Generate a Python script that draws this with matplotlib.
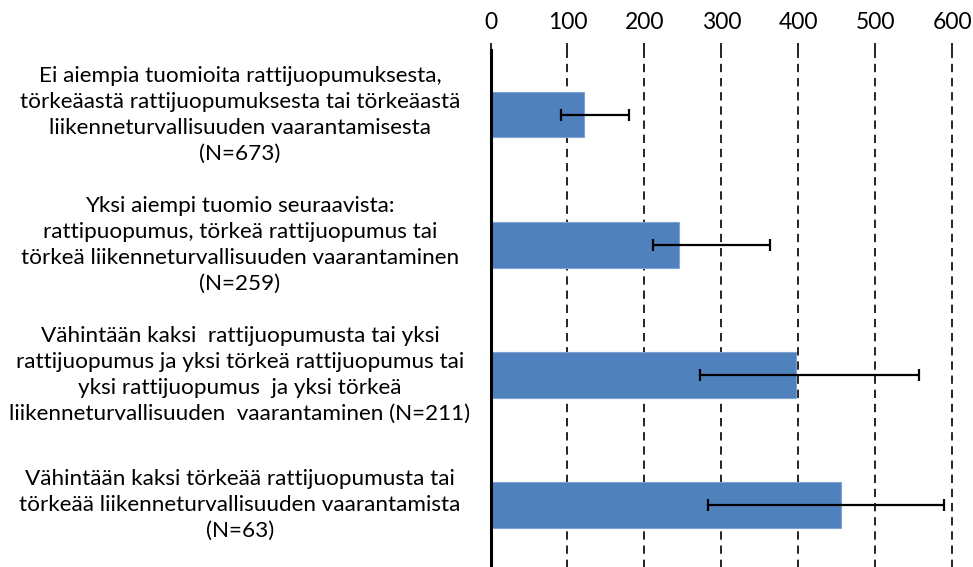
import matplotlib
matplotlib.use("Agg")
import matplotlib.pyplot as plt
from matplotlib.transforms import blended_transform_factory

categories = [
    "Ei aiempia tuomioita rattijuopumuksesta,\ntörkeäastä rattijuopumuksesta tai törkeäastä\nliikenneturvallisuuden vaarantamisesta\n(N=673)",
    "Yksi aiempi tuomio seuraavista:\nrattipuopumus, törkeä rattijuopumus tai\ntörkeä liikenneturvallisuuden vaarantaminen\n(N=259)",
    "Vähintään kaksi  rattijuopumusta tai yksi\nrattijuopumus ja yksi törkeä rattijuopumus tai\nyksi rattijuopumus  ja yksi törkeä\nliikenneturvallisuuden  vaarantaminen (N=211)",
    "Vähintään kaksi törkeää rattijuopumusta tai\ntörkeää liikenneturvallisuuden vaarantamista\n(N=63)",
]
values = [121, 245, 397, 456]
err_low = [92, 211, 272, 282]
err_high = [180, 363, 557, 589]
xticks = [0, 100, 200, 300, 400, 500, 600]

plt.rcParams['font.family'] = ['Lato', 'DejaVu Sans']

fig = plt.figure(figsize=(9.73, 5.67), dpi=100)
ax = fig.add_axes([490.5 / 973, -0.005, (952.3 - 490.5) / 973, 0.9173])

ypos = list(range(len(categories)))
ax.barh(ypos, values, height=0.35, color='#4F81BD', edgecolor='#7FA3D3', linewidth=0.8, zorder=2)
xerr = [[v - lo for v, lo in zip(values, err_low)], [hi - v for v, hi in zip(values, err_high)]]
ax.errorbar(values, ypos, xerr=xerr, fmt='none', ecolor='black', elinewidth=1.6,
            capsize=4, capthick=1.6, zorder=3)

ax.set_xlim(0, 600)
ax.set_ylim(len(categories) - 0.5, -0.5)
ax.set_xticks(xticks)
ax.set_xticklabels([str(t) for t in xticks], fontsize=16.5)
ax.xaxis.tick_top()
ax.tick_params(axis='x', direction='out', length=5, width=1.2, pad=7, colors='black')
ax.set_yticks([])
for t in xticks[1:]:
    ax.axvline(t, color='black', linestyle=(0, (5, 3.5)), linewidth=1.2, zorder=1, clip_on=False)

for s in ['top', 'right', 'bottom']:
    ax.spines[s].set_visible(False)
ax.spines['left'].set_linewidth(2.2)
ax.spines['left'].set_zorder(4)

trans = blended_transform_factory(fig.transFigure, ax.transData)
for y, lab in zip(ypos, categories):
    ax.text(240 / 973, y, lab, transform=trans, ha='center', va='center',
            multialignment='center', fontsize=16.2, linespacing=1.38)

fig.savefig('out.png', dpi=100)
